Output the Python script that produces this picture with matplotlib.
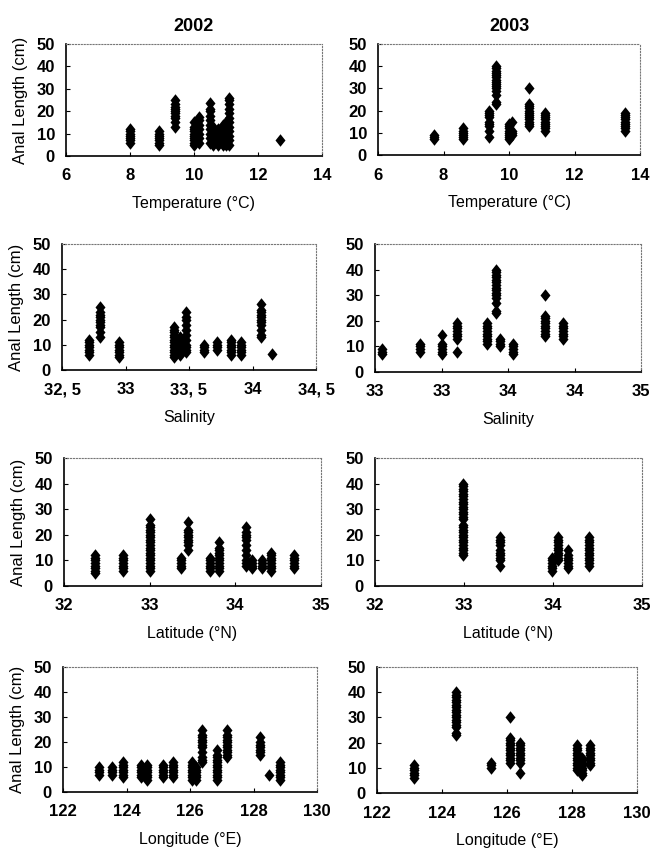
import matplotlib.pyplot as plt

plt.rcParams['font.family'] = ['Liberation Sans', 'DejaVu Sans']

# Each cluster: (x value, anal lengths in cm)
temp_2002 = [
    (8.0, [6, 7, 8, 9, 10, 11, 12]),
    (8.9, [5, 6, 7, 8, 9, 10, 11]),
    (9.4, [13, 15, 17, 18, 19, 20, 21, 22, 23, 25]),
    (10.0, [5, 6, 7, 8, 9, 10, 11, 12, 13, 15]),
    (10.15, [6, 8, 10, 12, 14, 16, 17.5]),
    (10.5, [6, 8, 10, 12, 14, 16, 18, 20, 21, 23.5]),
    (10.6, [5, 6, 7, 8, 9, 10, 11, 13]),
    (10.75, [5, 6, 7, 8, 9, 10, 11, 12]),
    (10.9, [5, 6, 7, 8, 9, 10, 12, 14]),
    (11.0, [5, 6, 8, 10, 12, 13, 15]),
    (11.1, [5, 7, 9, 11, 13, 15, 17, 19, 21, 23, 25, 26]),
    (12.7, [7]),
]
temp_2003 = [
    (7.7, [7, 8, 9]),
    (8.6, [7, 8, 9, 10, 11, 12]),
    (9.4, [8, 11, 13, 14, 15, 17, 18, 19, 20]),
    (9.6, [23, 24, 27, 29, 30, 31, 32, 33, 34, 35, 36, 37, 38, 39, 40]),
    (10.0, [7, 8, 9, 10, 11, 12, 13, 14]),
    (10.1, [9, 10, 11, 15]),
    (10.6, [13, 14, 15, 16, 17, 18, 19, 20, 21, 22, 23, 30]),
    (11.1, [11, 12, 13, 14, 15, 16, 17, 18, 19]),
    (13.55, [11, 12, 13, 14, 15, 16, 17, 18, 19]),
]
sal_2002 = [
    (32.71, [6, 7, 8, 9, 10, 11, 12]),
    (32.8, [13, 15, 17, 18, 19, 20, 21, 22, 23, 25]),
    (32.95, [5, 6, 7, 8, 9, 10, 11]),
    (33.38, [5, 6, 7, 8, 9, 10, 11, 12, 13, 14, 15, 16, 17]),
    (33.43, [6, 7, 8, 9, 10, 11, 12, 13]),
    (33.48, [7, 8, 9, 10, 12, 14, 16, 18, 20, 21, 23]),
    (33.62, [7, 8, 9, 10]),
    (33.72, [8, 9, 10, 11]),
    (33.83, [6, 7, 8, 9, 10, 11, 12]),
    (33.91, [6, 7, 8, 9, 10, 11]),
    (34.07, [13, 14, 16, 18, 19, 20, 21, 22, 23, 24, 26]),
    (34.15, [6.5]),
]
sal_2003 = [
    (33.05, [7, 8, 9]),
    (33.34, [8, 9, 10, 11]),
    (33.5, [7, 8, 9, 10, 11, 14.5]),
    (33.62, [8, 13, 14, 15, 16, 17, 18, 19]),
    (33.84, [11, 12, 13, 14, 15, 16, 17, 18, 19]),
    (33.91, [23, 24, 27, 29, 30, 31, 32, 33, 34, 35, 36, 37, 38, 39, 40]),
    (33.94, [10, 11, 12, 13]),
    (34.04, [7, 8, 9, 10, 11]),
    (34.28, [14, 15, 16, 17, 18, 19, 20, 21, 22, 30]),
    (34.41, [13, 14, 15, 16, 17, 18, 19]),
]
lat_2002 = [
    (32.36, [5, 6, 7, 8, 9, 10, 11, 12]),
    (32.69, [6, 7, 8, 9, 10, 11, 12]),
    (33.0, [6, 7, 8, 9, 10, 11, 12, 13, 14, 15, 16, 17, 18, 19, 20, 21, 22, 23, 24, 26]),
    (33.36, [7, 8, 9, 10, 11]),
    (33.45, [14, 16, 17, 18, 19, 20, 21, 22, 25]),
    (33.7, [6, 7, 8, 9, 10, 11]),
    (33.81, [6, 7, 8, 9, 10, 11, 12, 13, 14, 15, 17]),
    (34.13, [8, 9, 10, 12, 14, 16, 18, 19, 20, 21, 23]),
    (34.2, [7, 8, 9, 10]),
    (34.31, [7, 8, 9, 10]),
    (34.42, [6, 7, 8, 9, 10, 11, 12, 13]),
    (34.68, [7, 8, 9, 10, 11, 12]),
]
lat_2003 = [
    (32.99, [12, 13, 14, 15, 16, 17, 18, 19, 20, 21, 22, 23, 24, 26, 27,
             28, 29, 30, 31, 32, 33, 34, 35, 36, 37, 38, 39, 40]),
    (33.41, [8, 10, 11, 12, 13, 14, 16, 17, 18, 19]),
    (33.99, [6, 7, 8, 9, 10, 11]),
    (34.06, [10, 11, 12, 13, 14, 15, 16, 17, 18, 19]),
    (34.17, [7, 8, 9, 10, 11, 12, 14]),
    (34.4, [8, 9, 10, 11, 12, 13, 14, 15, 16, 17, 18, 19]),
]
lon_2002 = [
    (123.14, [7, 8, 9, 10]),
    (123.55, [7, 8, 9, 10]),
    (123.9, [6, 7, 8, 9, 10, 11, 12]),
    (124.47, [6, 7, 8, 9, 10, 11]),
    (124.63, [5, 6, 7, 8, 9, 10, 11]),
    (125.16, [6, 7, 8, 9, 10, 11]),
    (125.47, [6, 7, 8, 9, 10, 11, 12]),
    (126.05, [5, 6, 7, 8, 9, 10, 11, 12]),
    (126.2, [5, 6, 7, 8, 9, 10]),
    (126.37, [12, 13, 14, 16, 18, 19, 20, 21, 22, 23, 25]),
    (126.84, [5, 6, 7, 8, 9, 10, 11, 12, 13, 14, 15, 17]),
    (127.16, [14, 15, 16, 17, 18, 19, 20, 21, 22, 23, 25]),
    (128.19, [15, 16, 17, 18, 19, 20, 22]),
    (128.5, [7]),
    (128.84, [5, 6, 7, 8, 9, 10, 11, 12]),
]
lon_2003 = [
    (123.13, [6, 7, 8, 9, 10, 11]),
    (124.44, [23, 24, 26, 27, 28, 29, 30, 31, 32, 33, 34, 35, 36, 37, 38, 39, 40]),
    (125.51, [10, 11, 12]),
    (126.1, [12, 13, 14, 15, 16, 17, 18, 19, 20, 21, 22, 30]),
    (126.39, [8, 12, 13, 14, 15, 16, 17, 18, 19, 20]),
    (128.15, [9, 10, 11, 12, 13, 14, 15, 16, 17, 18, 19]),
    (128.3, [7, 8, 9, 10, 11, 12, 13, 14]),
    (128.56, [11, 12, 13, 14, 15, 16, 17, 18, 19]),
]

temp_ticks = [6, 8, 10, 12, 14]
sal02_ticks = [32.5, 33, 33.5, 34, 34.5]
sal02_labels = ['32, 5', '33', '33, 5', '34', '34, 5']
sal03_ticks = [33, 33.5, 34, 34.5, 35]
sal03_labels = ['33', '33', '34', '34', '35']
lat_ticks = [32, 33, 34, 35]
lon_ticks = [122, 124, 126, 128, 130]
y_ticks = [0, 10, 20, 30, 40, 50]

W, H = 661, 849
fig = plt.figure(figsize=(W / 100, H / 100), dpi=100)

# (data, x limits, ticks, tick labels, x label, axes box in pixels l, t, r, b)
panels = [
    (temp_2002, (6, 14), temp_ticks, None, 'Temperature (°C)', (66, 44, 322, 156)),
    (temp_2003, (6, 14), temp_ticks, None, 'Temperature (°C)', (378, 44, 640, 155)),
    (sal_2002, (32.5, 34.5), sal02_ticks, sal02_labels, 'Salinity', (62, 244, 316, 370)),
    (sal_2003, (33, 35), sal03_ticks, sal03_labels, 'Salinity', (375, 244, 641, 372)),
    (lat_2002, (32, 35), lat_ticks, None, 'Latitude (°N)', (64, 458, 321, 586)),
    (lat_2003, (32, 35), lat_ticks, None, 'Latitude (°N)', (375, 458, 642, 586)),
    (lon_2002, (122, 130), lon_ticks, None, 'Longitude (°E)', (63, 667, 317, 792)),
    (lon_2003, (122, 130), lon_ticks, None, 'Longitude (°E)', (377, 667, 637, 793)),
]

narrow = ['Liberation Sans Narrow', 'Liberation Sans']
diamond = [(0, 1), (0.8, 0), (0, -1), (-0.8, 0), (0, 1)]

for i, (clusters, xlim, ticks, labels, xlabel, box) in enumerate(panels):
    l, t, r, b = box
    ax = fig.add_axes([l / W, 1 - b / H, (r - l) / W, (b - t) / H])
    for x, ys in clusters:
        ax.plot([x] * len(ys), ys, linestyle='none', marker=diamond,
                markersize=9, color='black', markeredgewidth=0)
    ax.set_xlim(*xlim)
    ax.set_ylim(0, 50)
    ax.set_xticks(ticks)
    if labels is not None:
        ax.set_xticklabels(labels)
    ax.set_yticks(y_ticks)
    ax.tick_params(axis='both', direction='in', length=3, width=0.8)
    ax.tick_params(axis='x', pad=9)
    ax.tick_params(axis='y', pad=8)
    for lab in ax.get_xticklabels() + ax.get_yticklabels():
        lab.set_family(narrow)
        lab.set_fontsize(12)
        lab.set_fontweight('bold')
    for side in ('left', 'bottom'):
        ax.spines[side].set_linewidth(1.2)
    for side in ('top', 'right'):
        ax.spines[side].set_linestyle(':')
        ax.spines[side].set_color('#777777')
        ax.spines[side].set_linewidth(0.8)
    ax.set_xlabel(xlabel, fontsize=11.5, labelpad=9)
    if i % 2 == 0:
        ax.set_ylabel('Anal Length (cm)', fontsize=12, labelpad=6)
    if i < 2:
        ax.set_title(['2002', '2003'][i], fontsize=13, fontweight='bold',
                     family=narrow, pad=9)

fig.savefig('out.png', dpi=100)
